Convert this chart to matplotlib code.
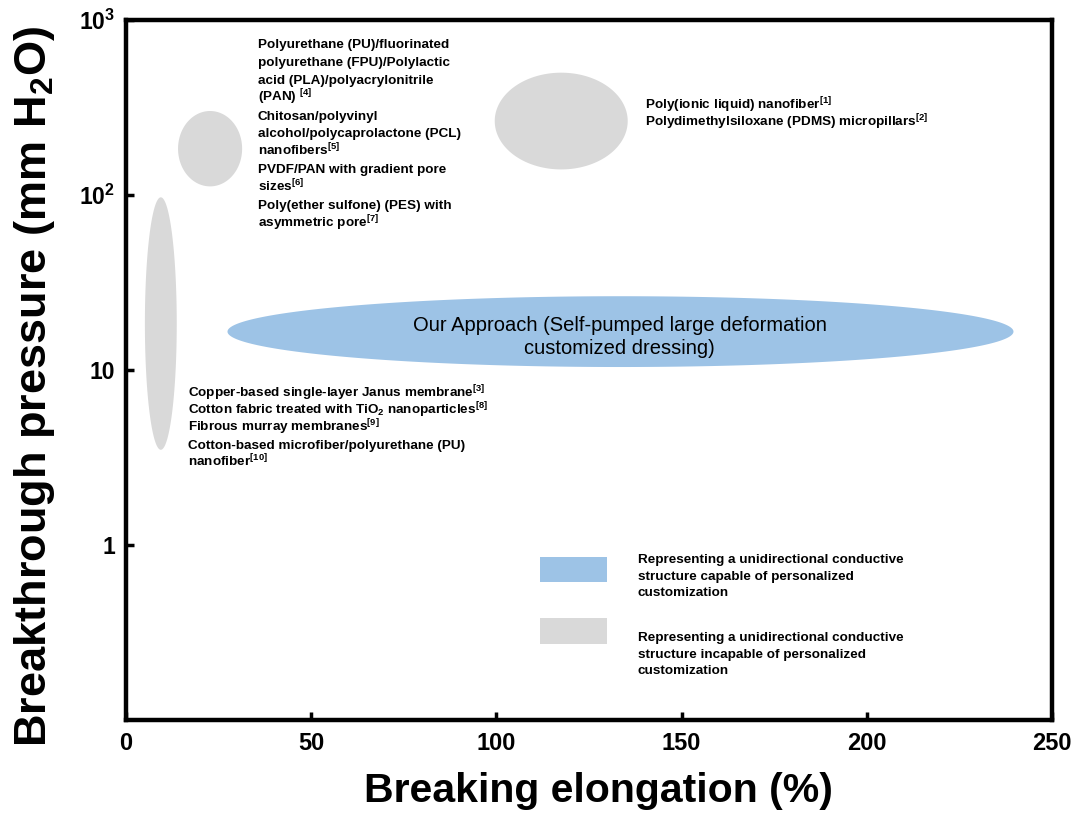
import numpy as np
import matplotlib
matplotlib.use("Agg")
import matplotlib.pyplot as plt
from matplotlib.transforms import ScaledTranslation

plt.rcParams['font.family'] = ['Liberation Sans', 'DejaVu Sans']
plt.rcParams['font.weight'] = 'bold'
plt.rcParams['mathtext.fontset'] = 'custom'
plt.rcParams['mathtext.rm'] = 'Liberation Sans:bold'
plt.rcParams['mathtext.bf'] = 'Liberation Sans:bold'
plt.rcParams['mathtext.it'] = 'Liberation Sans:bold'
plt.rcParams['mathtext.default'] = 'bf'

# ---- data: regions (breaking elongation %, breakthrough pressure mm H2O) ----
region_names = ['Janus/TiO2/murray/PU', 'PU/FPU/PLA/PAN', 'Poly(ionic liquid)/PDMS', 'Our Approach']
elong_center = [9.4, 22.7, 117.5, 133.5]
elong_width = [8.6, 17.3, 35.9, 212.2]
press_low = [3.5, 112, 140, 10.4]
press_high = [97, 302, 500, 26.4]
region_colors = ['#D9D9D9', '#D9D9D9', '#D9D9D9', '#9DC3E6']

x_ticks = [0, 50, 100, 150, 200, 250]
y_ticks = [1, 10, 100, 1000]
y_ticklabels = ['1', '10', '$10^2$', '$10^3$']

upper_lines = ["Polyurethane (PU)/fluorinated", "polyurethane (FPU)/Polylactic",
               "acid (PLA)/polyacrylonitrile", "(PAN) $^{[4]}$", "Chitosan/polyvinyl",
               "alcohol/polycaprolactone (PCL)", "nanofibers$^{[5]}$", "PVDF/PAN with gradient pore",
               "sizes$^{[6]}$", "Poly(ether sulfone) (PES) with", "asymmetric pore$^{[7]}$"]
right_lines = ["Poly(ionic liquid) nanofiber$^{[1]}$",
               "Polydimethylsiloxane (PDMS) micropillars$^{[2]}$"]
lower_lines = ["Copper-based single-layer Janus membrane$^{[3]}$",
               "Cotton fabric treated with TiO$_2$ nanoparticles$^{[8]}$",
               "Fibrous murray membranes$^{[9]}$",
               "Cotton-based microfiber/polyurethane (PU)",
               "nanofiber$^{[10]}$"]
legend1_lines = ["Representing a unidirectional conductive", "structure capable of personalized",
                 "customization"]
legend2_lines = ["Representing a unidirectional conductive", "structure incapable of personalized",
                 "customization"]

fig = plt.figure(figsize=(10.77, 8.15), dpi=100)
ax = fig.add_axes([126/1077, 1 - 720/815, (1052-126)/1077, (720-20)/815])
ax.set_yscale('log')
ax.set_xlim(0, 250)
ax.set_ylim(0.1, 1000)

t = np.linspace(0, 2*np.pi, 400)
for xc, w, lo, hi, c in zip(elong_center, elong_width, press_low, press_high, region_colors):
    lc = (np.log10(lo) + np.log10(hi)) / 2
    lh = (np.log10(hi) - np.log10(lo)) / 2
    xs = xc + w/2*np.cos(t)
    ys = 10**(lc + lh*np.sin(t))
    ax.fill(xs, ys, color=c, lw=0, zorder=1)

def swatch(x0, x1, y0, y1, c):
    ax.fill([x0, x1, x1, x0], [y0, y0, y1, y1], color=c, lw=0, zorder=1)
swatch(111.8, 129.9, 10**-0.214, 10**-0.066, '#9DC3E6')
swatch(111.8, 129.9, 10**-0.567, 10**-0.419, '#D9D9D9')

fs = 9.7
def draw_lines(x, logy, lines, step_px=17.6):
    for i, line in enumerate(lines):
        tr = ax.transData + ScaledTranslation(0, -i*step_px/100, fig.dpi_scale_trans)
        ax.text(x, 10**logy, line, transform=tr, fontsize=fs, fontweight='bold',
                ha='left', va='baseline', zorder=3)

draw_lines(35.6, 2.84, upper_lines, 17.9)
draw_lines(140.1, 2.491, right_lines, 17.2)
draw_lines(16.7, 0.846, lower_lines, 17.3)
draw_lines(138.2, -0.103, legend1_lines, 16.5)
draw_lines(138.2, -0.549, legend2_lines, 16.5)

ax.text(133.3, 10**1.19, "Our Approach (Self-pumped large deformation\ncustomized dressing)",
        fontsize=14.5, fontweight='normal', ha='center', va='center',
        linespacing=1.25, zorder=3)

ax.set_xticks(x_ticks)
ax.set_xticklabels([str(v) for v in x_ticks], fontsize=17, fontweight='bold')
ax.set_yticks(y_ticks)
ax.set_yticklabels(y_ticklabels, fontsize=16.5, fontweight='bold')
ax.yaxis.set_minor_locator(matplotlib.ticker.NullLocator())
ax.tick_params(axis='both', direction='in', width=2.5, length=6)
ax.tick_params(axis='x', pad=9)
ax.tick_params(axis='y', pad=8)
for s in ax.spines.values():
    s.set_linewidth(3.2)

ax.set_xlabel("Breaking elongation (%)", fontsize=29.5, fontweight='bold')
ax.xaxis.set_label_coords(0.51, -0.075)
ax.set_ylabel("Breakthrough pressure (mm H$_2$O)", fontsize=32.5, fontweight='bold')
ax.yaxis.set_label_coords(-0.075, 0.476)

fig.savefig("out.png", dpi=100)
